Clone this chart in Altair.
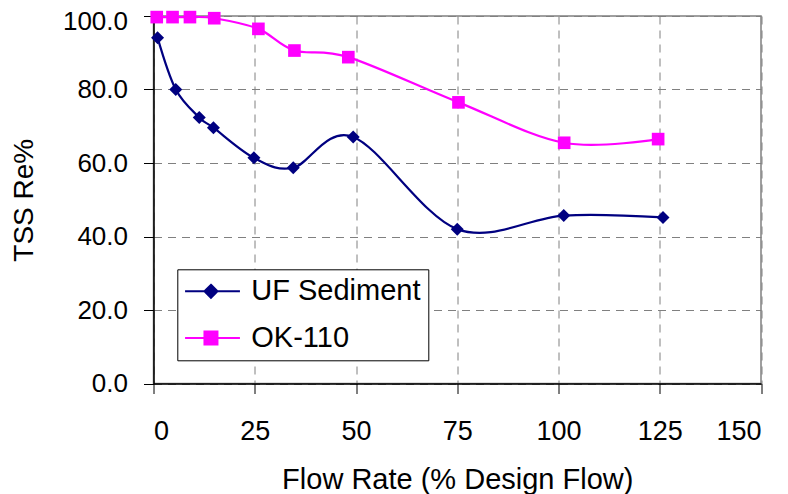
import altair as alt
import pandas as pd

series = ["UF Sediment", "OK-110"]
colors = ["#000080", "#FF00FF"]
uf_x = [1.0, 5.5, 11.3, 14.8, 24.8, 34.5, 49.3, 75.0, 101.3, 125.8]
uf_y = [94.1, 80.0, 72.4, 69.6, 61.4, 58.7, 67.1, 42.0, 45.7, 45.2]
ok_x = [0.8, 4.7, 9.0, 15.0, 25.9, 34.8, 48.1, 75.3, 101.4, 124.6]
ok_y = [99.7, 99.7, 99.7, 99.4, 96.5, 90.6, 88.8, 76.5, 65.5, 66.5]
x_ticks = [0, 25, 50, 75, 100, 125, 150]
y_ticks = [0, 20, 40, 60, 80, 100]

rows = []
for xv, yv in zip(uf_x, uf_y):
    rows.append({"series": series[0], "x": xv, "y": yv})
for xv, yv in zip(ok_x, ok_y):
    rows.append({"series": series[1], "x": xv, "y": yv})
df = pd.DataFrame(rows)

FONT = "Liberation Sans"

diamond_leg = "M-1.017,0H2.903M0.833,-0.464L1.297,0L0.833,0.464L0.369,0Z"
square_leg = "M-1.017,0H2.903M0.369,-0.464H1.297V0.464H0.369Z"
diamond_pt = "M0,-1L1,0L0,1L-1,0Z"


def make_legend():
    return alt.Legend(
        title=None,
        orient="none",
        legendX=23.8,
        legendY=253.3,
        padding=7,
        rowPadding=16.7,
        symbolSize=784,
        symbolStrokeWidth=2,
        symbolOpacity=1,
        labelOffset=37,
        labelLimit=400,
        labelFont=FONT,
        labelFontSize=29,
        labelColor="black",
        strokeColor="black",
        fillColor="white",
    )


axis_common = dict(
    tickSize=10,
    grid=True,
    gridDash=[8, 6],
    gridColor="#808080",
    gridWidth=1,
    domainColor="black",
    domainWidth=1.5,
    tickColor="black",
    labelColor="black",
    titleColor="black",
    labelFont=FONT,
    titleFont=FONT,
    titleFontWeight="normal",
)

xenc = alt.X(
    "x:Q",
    scale=alt.Scale(domain=[0, 150], nice=False, zero=False),
    axis=alt.Axis(
        values=x_ticks,
        title="Flow Rate (% Design Flow)",
        format="d",
        labelFontSize=27,
        titleFontSize=29,
        labelPadding=25,
        titlePadding=21,
        **axis_common,
    ),
)
yenc = alt.Y(
    "y:Q",
    scale=alt.Scale(domain=[0, 100], nice=False),
    axis=alt.Axis(
        values=y_ticks,
        title="TSS Re%",
        format=".1f",
        labelFontSize=26,
        titleFontSize=28,
        labelPadding=16,
        titlePadding=24,
        labelOffset={"condition": {"test": "datum.value >= 100", "value": 5}, "value": 0},
        **axis_common,
    ),
)

cscale = alt.Scale(domain=series, range=colors)

lines = alt.Chart(df).mark_line(interpolate="cardinal", strokeWidth=2.2).encode(
    x=xenc, y=yenc, color=alt.Color("series:N", scale=cscale, legend=make_legend())
)
pts_uf = (
    alt.Chart(df)
    .transform_filter(alt.datum.series == series[0])
    .mark_point(filled=True, opacity=1, size=169, shape=diamond_pt, color=colors[0])
    .encode(x=xenc, y=yenc)
)
pts_ok = (
    alt.Chart(df)
    .transform_filter(alt.datum.series == series[1])
    .mark_point(filled=True, opacity=1, size=160, shape="square", color=colors[1])
    .encode(x=xenc, y=yenc)
)
legend_layer = (
    alt.Chart(df)
    .transform_filter("false")
    .mark_point(
        filled=True,
        size=784,
        strokeWidth=2,
        stroke=alt.expr("datum.value === 'UF Sediment' ? '#000080' : '#FF00FF'"),
    )
    .encode(
        x=xenc,
        y=yenc,
        color=alt.Color("series:N", scale=cscale, legend=make_legend()),
        shape=alt.Shape(
            "series:N",
            scale=alt.Scale(domain=series, range=[diamond_leg, square_leg]),
            legend=make_legend(),
        ),
    )
)

chart = (
    alt.layer(lines, pts_uf, pts_ok, legend_layer)
    .properties(
        width=607.5,
        height=367.5,
        autosize=alt.AutoSizeParams(type="none"),
        padding={"left": 145.5, "top": 8, "right": 12, "bottom": 110},
        background="white",
    )
    .configure_view(stroke="#808080", strokeWidth=1.5)
)

chart.save("out.html", embed_options={"renderer": "svg", "actions": False})
